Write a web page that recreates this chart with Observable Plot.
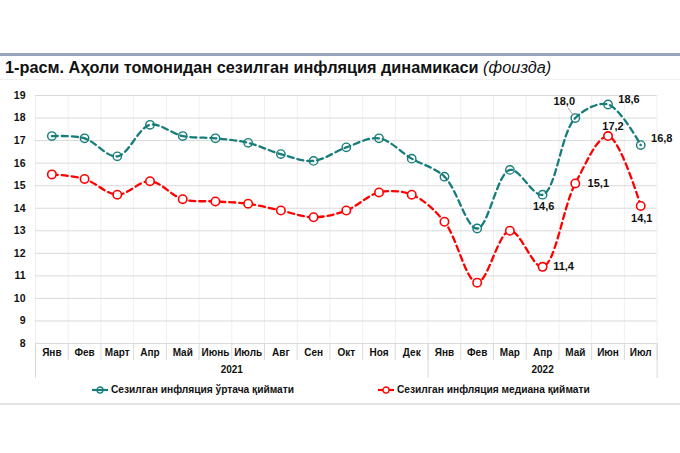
<!DOCTYPE html>
<html><head><meta charset="utf-8">
<script src="https://cdn.jsdelivr.net/npm/d3@7"></script>
<script src="https://cdn.jsdelivr.net/npm/@observablehq/plot@0.6"></script>
<style>
body{margin:0;background:#fff;font-family:"Liberation Sans",Arial,sans-serif;}
#wrap{position:relative;width:680px;height:453px;overflow:hidden;background:#fff}
.r1{position:absolute;left:0;top:53px;width:680px;height:3px;background:#98a4bc}
.r2{position:absolute;left:0;top:79px;width:680px;height:1px;background:#f0f0f0}
.r3{position:absolute;left:0;top:403px;width:680px;height:2px;background:#e4e4e4}
#title{position:absolute;left:5px;top:58px;font-size:16.3px;color:#111;white-space:nowrap}
#title i{font-weight:normal}
#chart{position:absolute;left:0;top:85px}
.leg{position:absolute;top:384px;font-size:10.2px;font-weight:bold;color:#111;display:flex;align-items:center;white-space:nowrap}
.leg svg{margin-right:3px}
</style></head><body>
<div id="wrap">
 <div class="r1"></div>
 <div id="title"><b>1-расм. Аҳоли томонидан сезилган инфляция динамикаси</b> <i>(фоизда)</i></div>
 <div class="r2"></div>
 <div id="chart"></div>
 <div id="leg1" class="leg"></div>
 <div id="leg2" class="leg"></div>
 <div class="r3"></div>
</div>
<script>
const months = ["Янв","Фев","Март","Апр","Май","Июнь","Июль","Авг","Сен","Окт","Ноя","Дек","Янв","Фев","Мар","Апр","Май","Июн","Июл"];
const monthYears = ["2021","2021","2021","2021","2021","2021","2021","2021","2021","2021","2021","2021","2022","2022","2022","2022","2022","2022","2022"];
const meanValues = [17.2,17.1,16.3,17.7,17.2,17.1,16.9,16.4,16.1,16.7,17.1,16.2,15.4,13.1,15.7,14.6,18.0,18.6,16.8];
const medianValues = [15.5,15.3,14.6,15.2,14.4,14.3,14.2,13.9,13.6,13.9,14.7,14.6,13.4,10.7,13.0,11.4,15.1,17.2,14.1];
const seriesNames = ["Сезилган инфляция ўртача қиймати","Сезилган инфляция медиана қиймати"];
const yTicks = [8,9,10,11,12,13,14,15,16,17,18,19];
const meanLabelIdx = [15,16,17,18];
const medianLabelIdx = [15,16,17,18];

const TEAL = "#177d7b", RED = "#ff0000";
const fmt = v => d3.format(".1f")(v).replace(".", ",");
const idx = months.map((m, i) => i);
const edges = [...idx.map(i => i - 0.5), months.length - 0.5];
const yearGroups = d3.groups(idx, i => monthYears[i]);
const yearEdges = [...yearGroups.map(g => g[1][0] - 0.5), months.length - 0.5];

// label offsets (style, kept in code)
const meanOff = {15:[1,12], 16:[-11,-17], 17:[21,-5], 18:[21,-7]};
const medOff = {15:[21,0], 16:[23,0], 17:[5,-10], 18:[1,12]};

const lab = (vals, ids, off) => ids.map(i => Plot.text([i], {
  x: d => d, y: d => vals[d], text: d => fmt(vals[d]), dx: off[i][0], dy: off[i][1],
  fontSize: 11, fontWeight: "bold", fill: "#111"
}));

const chart = Plot.plot({
  width: 680, height: 300,
  marginTop: 10, marginBottom: 42, marginLeft: 35, marginRight: 23.4,
  style: {fontFamily: "'Liberation Sans', Arial, sans-serif", background: "transparent"},
  x: {domain: [-0.5, months.length - 0.5], axis: null},
  y: {domain: [8, 19], axis: null},
  marks: [
    Plot.ruleX(edges, {x: d => d, stroke: "#efefef"}),
    Plot.gridY(yTicks, {stroke: "#dadada", strokeOpacity: 1}),
    Plot.ruleX(edges, {x: d => d, y1: 8, y2: 8, insetBottom: -17, stroke: "#dadada"}),
    Plot.ruleX(yearEdges, {x: d => d, y1: 8, y2: 8, insetBottom: -35, stroke: "#dadada"}),
    Plot.axisY(yTicks, {tickSize: 0, tickPadding: 10, fontSize: 10.5, fontWeight: "bold", fill: "#111", label: null}),
    Plot.text(idx, {x: d => d, frameAnchor: "bottom", dy: 12, text: d => months[d], fontSize: 10, fontWeight: "bold", fill: "#111"}),
    Plot.text(yearGroups, {x: g => d3.mean(g[1]), frameAnchor: "bottom", dy: 29, text: g => g[0], fontSize: 10, fontWeight: "bold", fill: "#111"}),
    Plot.line(idx, {x: d => d, y: d => meanValues[d], stroke: TEAL, strokeWidth: 2.3, strokeDasharray: "6,4", curve: "catmull-rom"}),
    Plot.line(idx, {x: d => d, y: d => medianValues[d], stroke: RED, strokeWidth: 2.3, strokeDasharray: "6,4", curve: "catmull-rom"}),
    Plot.dot(idx, {x: d => d, y: d => meanValues[d], r: 4.2, stroke: TEAL, fill: "none", strokeWidth: 1.4}),
    Plot.dot(idx, {x: d => d, y: d => medianValues[d], r: 4.2, stroke: RED, fill: "white", strokeWidth: 1.6}),
    Plot.vector([16], {x: d => d, y: d => meanValues[d], length: 8, rotate: -35, anchor: "start", stroke: "#999", strokeWidth: 0.8,
      shape: {draw(ctx, l) { ctx.moveTo(0, -4); ctx.lineTo(0, -l - 4); }}}),
    ...lab(meanValues, meanLabelIdx, meanOff),
    ...lab(medianValues, medianLabelIdx, medOff)
  ]
});
document.getElementById("chart").appendChild(chart);

function swatch(color, fill) {
  return `<svg width="16" height="10"><line x1="0" y1="5" x2="16" y2="5" stroke="${color}" stroke-width="2.2"/><circle cx="8" cy="5" r="3" stroke="${color}" fill="${fill}" stroke-width="1.3"/></svg>`;
}
const l1 = document.getElementById("leg1"), l2 = document.getElementById("leg2");
l1.style.left = "92px"; l2.style.left = "378px";
l1.innerHTML = swatch(TEAL, "none") + "<span>" + seriesNames[0] + "</span>";
l2.innerHTML = swatch(RED, "white") + "<span>" + seriesNames[1] + "</span>";
</script>
</body></html>
